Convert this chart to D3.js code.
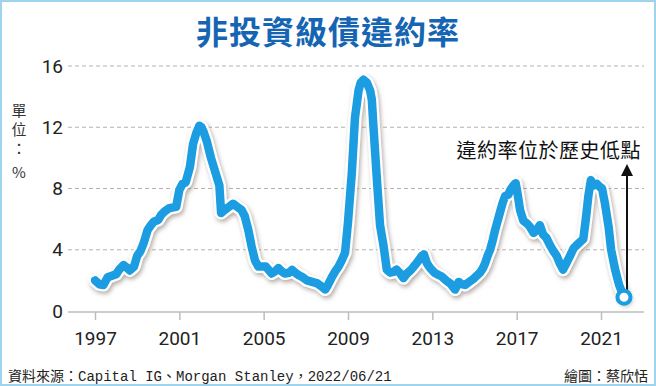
<!DOCTYPE html>
<html>
  <head>
    <meta charset='utf-8'>
    <title>非投資級債違約率</title>
    <script src='https://d3js.org/d3.v7.min.js'></script>
    <style>
      body { margin: 0; background: #fff; }
      svg { display: block; }
    </style>
  </head>
  <body>
    <div id='grafico'></div>
    <script>
    // Datos (año decimal, % de impago)
    const years = [
      1997.0, 1997.2, 1997.4, 1997.6, 1997.8, 1998.0, 1998.15, 1998.35, 1998.5, 1998.65, 1998.85,
      1999.0, 1999.15, 1999.3, 1999.5, 1999.65, 1999.8, 2000.0, 2000.15, 2000.3, 2000.5, 2000.65, 2000.85,
      2001.0, 2001.15, 2001.3, 2001.5, 2001.65, 2001.8, 2001.95, 2002.05, 2002.15, 2002.3, 2002.5, 2002.7, 2002.9,
      2002.98, 2003.15, 2003.35, 2003.55, 2003.75, 2003.95, 2004.1, 2004.27, 2004.43, 2004.59, 2004.75, 2004.95,
      2005.1, 2005.38, 2005.55, 2005.7, 2005.85, 2006.0, 2006.2, 2006.35, 2006.5, 2006.65, 2006.85,
      2007.05, 2007.3, 2007.55, 2007.75, 2007.92, 2008.05, 2008.23, 2008.4, 2008.55, 2008.7, 2008.86,
      2009.0, 2009.18, 2009.33, 2009.5, 2009.6, 2009.73, 2009.9, 2010.05, 2010.13, 2010.2, 2010.36, 2010.52, 2010.68, 2010.84,
      2011.0, 2011.15, 2011.3, 2011.45, 2011.63, 2011.8, 2012.0, 2012.18, 2012.35, 2012.5, 2012.6, 2012.75, 2012.9,
      2013.1, 2013.3, 2013.45, 2013.65, 2013.85, 2014.08, 2014.25, 2014.4, 2014.55, 2014.75, 2014.95,
      2015.1, 2015.26, 2015.4, 2015.5, 2015.62, 2015.74, 2015.86, 2015.98, 2016.1, 2016.2, 2016.32, 2016.45, 2016.6, 2016.7, 2016.85, 2016.95,
      2017.05, 2017.16, 2017.32, 2017.5, 2017.63, 2017.8, 2017.95, 2018.1, 2018.25, 2018.4, 2018.58, 2018.75, 2018.9,
      2019.05, 2019.2, 2019.35, 2019.53, 2019.7, 2019.85, 2020.0, 2020.16, 2020.28, 2020.4, 2020.52, 2020.65, 2020.8, 2020.95,
      2021.05, 2021.19, 2021.36, 2021.48, 2021.67, 2021.86, 2022.09
    ];
    const rates = [
      2.0, 1.75, 1.7, 2.2, 2.3, 2.4, 2.7, 3.0, 2.85, 2.65, 2.9,
      3.6, 3.9, 4.4, 5.3, 5.6, 5.85, 5.95, 6.3, 6.5, 6.7, 6.75, 6.8,
      7.9, 8.3, 8.4, 9.4, 10.9, 11.6, 12.1, 12.0, 11.7, 11.1, 10.0, 9.1, 8.2,
      6.4, 6.6, 6.8, 7.0, 6.8, 6.6, 6.2, 5.3, 4.2, 3.3, 2.9, 2.9,
      2.9, 2.45, 2.6, 2.8, 2.6, 2.45, 2.5, 2.68, 2.5, 2.35, 2.2,
      2.0, 1.9, 1.8, 1.6, 1.4, 1.7, 2.2, 2.6, 2.9, 3.3, 3.8,
      5.8, 9.0, 12.6, 14.4, 14.9, 15.1, 14.9, 14.4, 13.8, 12.2, 8.8, 5.6, 4.3, 2.7,
      2.5, 2.55, 2.7, 2.5, 2.15, 2.45, 2.7, 3.0, 3.3, 3.6, 3.7, 3.1, 2.8,
      2.5, 2.35, 2.25, 2.0, 1.8, 1.4, 1.9, 1.75, 1.7, 1.9, 2.1,
      2.3, 2.5, 2.8, 3.1, 3.6, 4.0, 4.6, 5.3, 5.9, 6.4, 7.0, 7.5, 7.6, 7.9, 8.2, 8.35,
      7.6, 6.6, 5.9, 5.7, 5.5, 5.1, 5.3, 5.6, 5.0, 4.8, 4.3, 3.9, 3.6,
      3.1, 2.7, 3.1, 3.6, 4.1, 4.3, 4.5, 4.7, 6.0, 7.5, 8.55, 8.2, 8.3, 8.1,
      8.0, 7.0, 5.5, 4.0, 2.7, 1.7, 0.9
    ];
    const yTicks = [0, 4, 8, 12, 16];
    const xTicks = [1997, 2001, 2005, 2009, 2013, 2017, 2021];

    const W = 656, H = 386;
    const plotLeft = 68, plotRight = 644;
    const blue = '#1a9de1';

    const svg = d3.select('#grafico').append('svg')
                  .attr('width', W)
                  .attr('height', H);

    // Marco azul claro
    svg.append('rect')
      .attr('x', 1).attr('y', 1)
      .attr('width', W - 2).attr('height', H - 2)
      .attr('fill', '#fff')
      .attr('stroke', '#9fd4ee')
      .attr('stroke-width', 2);

    // Sombra para la línea
    const defs = svg.append('defs');
    const f = defs.append('filter').attr('id', 'sombra')
      .attr('x', '-10%').attr('y', '-10%').attr('width', '120%').attr('height', '120%');
    f.append('feDropShadow')
      .attr('dx', 1.5).attr('dy', 2.5).attr('stdDeviation', 2.2)
      .attr('flood-color', '#7a6a60').attr('flood-opacity', 0.55);

    // Escalas
    const xScale = d3.scaleLinear().domain([1997, 2021]).range([95, 601]);
    const yScale = d3.scaleLinear().domain([0, 16]).range([311, 66]);

    // Título
    svg.append('text')
      .attr('x', 328).attr('y', 44)
      .attr('text-anchor', 'middle')
      .style('font-family', "'Noto Sans CJK TC', sans-serif")
      .style('font-size', '32px')
      .style('font-weight', 'bold')
      .style('letter-spacing', '1px')
      .style('fill', '#1565b2')
      .text('非投資級債違約率');

    // Líneas de cuadrícula
    svg.append('g').selectAll('line')
      .data(yTicks.filter(d => d > 0)).enter().append('line')
      .attr('x1', plotLeft).attr('x2', plotRight)
      .attr('y1', d => yScale(d)).attr('y2', d => yScale(d))
      .attr('stroke', '#b3b3b3')
      .attr('stroke-width', 1)
      .attr('stroke-dasharray', '4,3');

    // Eje Y (solo etiquetas)
    const yAxis = d3.axisLeft(yScale).tickValues(yTicks).tickSize(0).tickPadding(0);
    const gy = svg.append('g')
      .attr('transform', 'translate(63,0)')
      .call(yAxis);
    gy.select('.domain').remove();
    gy.selectAll('text')
      .style('font-family', "Roboto, 'Noto Sans', sans-serif")
      .style('font-size', '19px')
      .style('fill', '#222');

    // Eje X
    svg.append('line')
      .attr('x1', plotLeft).attr('x2', plotRight)
      .attr('y1', 312).attr('y2', 312)
      .attr('stroke', '#bdbdbd').attr('stroke-width', 1.5);
    const xAxis = d3.axisBottom(xScale).tickValues(xTicks).tickSize(8).tickPadding(12)
      .tickFormat(d3.format('d'));
    const gx = svg.append('g')
      .attr('transform', 'translate(0,312)')
      .call(xAxis);
    gx.select('.domain').remove();
    gx.selectAll('line').attr('stroke', '#bdbdbd').attr('stroke-width', 1.5);
    gx.selectAll('text')
      .style('font-family', "Roboto, 'Noto Sans', sans-serif")
      .style('font-size', '19px')
      .style('fill', '#222');

    // Unidad vertical
    const unidad = [['單', 116], ['位', 135], ['：', 154], ['%', 178]];
    svg.append('g').selectAll('text')
      .data(unidad).enter().append('text')
      .attr('x', 19).attr('y', d => d[1])
      .attr('text-anchor', 'middle')
      .style('font-family', "'Noto Sans CJK TC', sans-serif")
      .style('font-size', '15px')
      .style('fill', '#333')
      .text(d => d[0]);

    // Línea de datos
    const data = years.map((y, i) => ({ year: y, rate: rates[i] }));
    const line = d3.line()
      .x(d => xScale(d.year))
      .y(d => yScale(d.rate));

    const gl = svg.append('g').attr('filter', 'url(#sombra)');
    gl.append('path')
      .datum(data)
      .attr('d', line)
      .attr('fill', 'none')
      .attr('stroke', '#fff')
      .attr('stroke-width', 13)
      .attr('stroke-linejoin', 'round')
      .attr('stroke-linecap', 'round');
    gl.append('path')
      .datum(data)
      .attr('d', line)
      .attr('fill', 'none')
      .attr('stroke', blue)
      .attr('stroke-width', 8.5)
      .attr('stroke-linejoin', 'round')
      .attr('stroke-linecap', 'round');

    // Último punto y flecha
    const last = data[data.length - 1];
    const lx = xScale(last.year), ly = yScale(last.rate);
    svg.append('line')
      .attr('x1', lx + 3).attr('x2', lx + 3)
      .attr('y1', ly - 4).attr('y2', 172)
      .attr('stroke', '#111').attr('stroke-width', 2);
    svg.append('path')
      .attr('d', `M${lx + 3},164 L${lx - 3},176 L${lx + 9},176 Z`)
      .attr('fill', '#111');
    svg.append('circle')
      .attr('cx', lx).attr('cy', ly).attr('r', 6.5)
      .attr('fill', '#fff')
      .attr('stroke', blue)
      .attr('stroke-width', 4);

    svg.append('text')
      .attr('x', 641).attr('y', 158)
      .attr('text-anchor', 'end')
      .style('font-family', "'Noto Sans CJK TC', sans-serif")
      .style('font-size', '20px')
      .style('letter-spacing', '0.5px')
      .style('fill', '#111')
      .text('違約率位於歷史低點');

    // Pie
    svg.append('text')
      .attr('x', 8).attr('y', 381)
      .style('font-family', "'Liberation Mono', 'Noto Sans CJK TC', monospace")
      .style('font-size', '14px')
      .style('fill', '#222')
      .text('資料來源：Capital IG、Morgan Stanley，2022/06/21');
    svg.append('text')
      .attr('x', 648).attr('y', 381)
      .attr('text-anchor', 'end')
      .style('font-family', "'Noto Sans CJK TC', sans-serif")
      .style('font-size', '14px')
      .style('fill', '#222')
      .text('繪圖：蔡欣恬');
    </script>
  </body>
</html>
